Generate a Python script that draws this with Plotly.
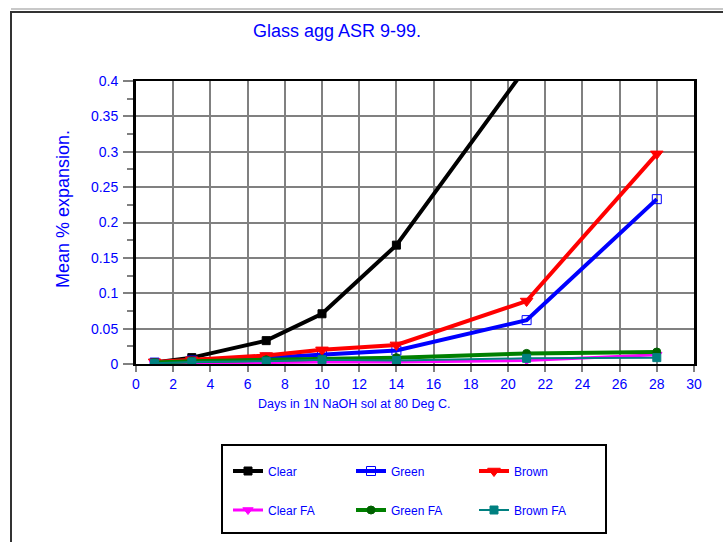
import plotly.graph_objects as go

days = [1, 3, 7, 10, 14, 21, 28]
clear = [0.002, 0.009, 0.033, 0.071, 0.168, 0.42, None]
green = [0.002, 0.005, 0.009, 0.013, 0.019, 0.062, 0.233]
brown = [0.003, 0.006, 0.012, 0.020, 0.027, 0.089, 0.297]
clear_fa = [0.001, 0.002, 0.002, 0.003, 0.003, 0.005, 0.013]
green_fa = [0.002, 0.004, 0.006, 0.007, 0.009, 0.015, 0.017]
brown_fa = [0.001, 0.003, 0.004, 0.006, 0.005, 0.008, 0.009]

title = "Glass agg ASR 9-99."
x_title = "Days in 1N NaOH sol at 80 Deg C."
y_title = "Mean % expansion."

FONT = "Liberation Sans, Arial, sans-serif"
BLUE = "#0000FF"

W, H = 723, 542
L, R, T, B = 136, 29, 81, 178
PW, PH = W - L - R, H - T - B


def px(x):
    return (x - L) / PW


def py(y):
    return (H - B - y) / PH


series = [
    ("Clear", clear, "black", 4, "square", 8, "black", "legend"),
    ("Green", green, "#0000FF", 4, "square-open", 9, "#0000FF", "legend"),
    ("Brown", brown, "#FF0000", 4, "triangle-down", 11, "#FF0000", "legend"),
    ("Clear FA", clear_fa, "#FF00FF", 3, "triangle-down", 9, "#FF00FF", "legend2"),
    ("Green FA", green_fa, "#008000", 4, "circle", 8, "#006000", "legend2"),
    ("Brown FA", brown_fa, "#008080", 2, "square", 8, "#008080", "legend2"),
]

fig = go.Figure()
for name, vals, color, lw, sym, ms, mcol, leg in series:
    fig.add_trace(go.Scatter(
        x=days, y=vals, name=name, mode="lines+markers",
        line=dict(color=color, width=lw),
        marker=dict(symbol=sym, size=ms, color=mcol,
                    line=dict(color=mcol, width=1)),
        legend=leg, connectgaps=False,
    ))

legend_common = dict(
    orientation="h", xanchor="left", yanchor="middle",
    bgcolor="rgba(0,0,0,0)", borderwidth=0,
    font=dict(family=FONT, size=12, color=BLUE),
    entrywidth=78, entrywidthmode="pixels",
    itemclick=False, itemdoubleclick=False,
)

fig.update_layout(
    width=W, height=H,
    margin=dict(l=L, r=R, t=T, b=B, autoexpand=False),
    paper_bgcolor="white", plot_bgcolor="white",
    title=dict(text=title, x=337 / W, xanchor="center", y=1 - 31 / H,
               yanchor="middle", yref="container",
               font=dict(family=FONT, size=18, color=BLUE)),
    xaxis=dict(
        range=[0, 30], dtick=2, tick0=0,
        showgrid=True, gridcolor="#808080", gridwidth=2,
        showline=True, linecolor="black", linewidth=2, mirror=True,
        zeroline=False,
        ticks="outside", ticklen=6, tickcolor="#808080", tickwidth=2,
        tickfont=dict(family=FONT, size=14, color=BLUE),
    ),
    yaxis=dict(
        range=[0, 0.4], dtick=0.05, tick0=0,
        showgrid=True, gridcolor="#808080", gridwidth=2,
        showline=True, linecolor="black", linewidth=3, mirror=True,
        zeroline=False,
        ticks="outside", ticklen=10, tickcolor="#808080", tickwidth=2,
        ticklabelstandoff=2,
        minor=dict(dtick=0.025, ticks="outside", ticklen=6,
                   tickcolor="#808080", tickwidth=2, showgrid=False),
        tickfont=dict(family=FONT, size=14, color=BLUE),
    ),
    annotations=[
        dict(text=x_title, xref="paper", yref="paper",
             x=px(354), y=py(404), xanchor="center", yanchor="middle",
             showarrow=False,
             font=dict(family=FONT, size=12.5, color=BLUE)),
        dict(text=y_title, xref="paper", yref="paper",
             x=px(63), y=py(209), xanchor="center", yanchor="middle",
             textangle=-90, showarrow=False,
             font=dict(family=FONT, size=18, color=BLUE)),
    ],
    legend=dict(x=px(228), y=py(471), **legend_common),
    legend2=dict(x=px(228), y=py(510), **legend_common),
    showlegend=True,
    shapes=[
        dict(type="rect", xref="paper", yref="paper",
             x0=px(11), x1=px(760), y0=py(12), y1=py(580),
             line=dict(color="#333333", width=2), fillcolor="rgba(0,0,0,0)",
             layer="below"),
        dict(type="line", xref="paper", yref="paper",
             x0=px(11), x1=px(760), y0=py(9), y1=py(9),
             line=dict(color="#c8c8c8", width=2)),
        dict(type="rect", xref="paper", yref="paper",
             x0=px(222), x1=px(606), y0=py(445), y1=py(533),
             line=dict(color="black", width=2), fillcolor="rgba(0,0,0,0)"),
    ],
)

fig.write_html("out.html")
